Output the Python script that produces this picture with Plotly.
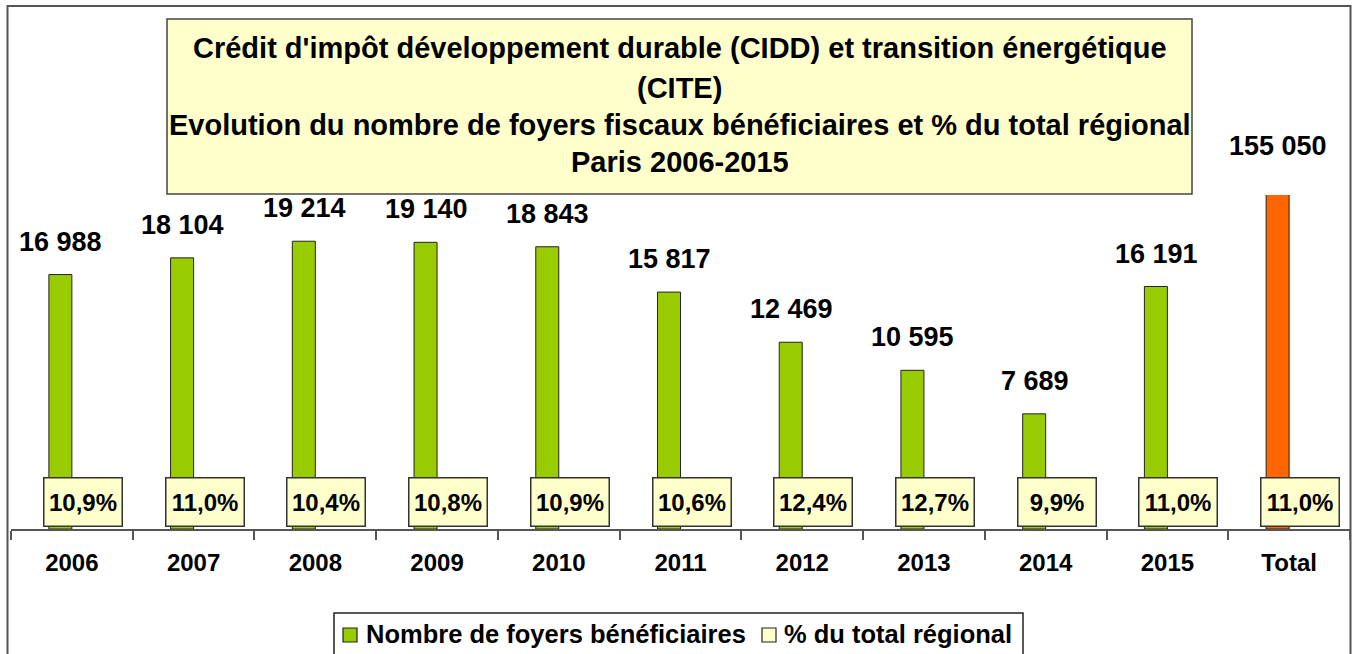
import plotly.graph_objects as go

# ---------------- data ----------------
categories = ['2006', '2007', '2008', '2009', '2010', '2011', '2012', '2013', '2014', '2015', 'Total']
foyers = [16988, 18104, 19214, 19140, 18843, 15817, 12469, 10595, 7689, 16191, 155050]
pct_total = ['10,9%', '11,0%', '10,4%', '10,8%', '10,9%', '10,6%', '12,4%', '12,7%', '9,9%', '11,0%', '11,0%']
series_names = ['Nombre de foyers bénéficiaires', '% du total régional']
title_lines = [
    "Crédit d'impôt développement durable (CIDD) et transition énergétique",
    "(CITE)",
    "Evolution du nombre de foyers fiscaux bénéficiaires et % du total régional",
    "Paris 2006-2015",
]

# ---------------- layout geometry ----------------
W, H = 1354, 654
ML, MR, MT, MB = 11, 4, 195, 125
PW = W - ML - MR
PH = H - MT - MB
YMAX = 22300
FONT = 'Liberation Sans, Arial, sans-serif'
GREEN = '#99CC00'
ORANGE = '#FF6600'
PALE = '#FFFFCC'


def px_x(px):
    return (px - ML) / PW


def px_y(py):
    return (H - MB - py) / PH


def fmt(v):
    return f"{v:,}".replace(',', ' ')


colors = [ORANGE if c == 'Total' else GREEN for c in categories]
legend_colors = [GREEN, PALE]

fig = go.Figure()
fig.add_trace(go.Bar(
    x=categories, y=foyers, name=series_names[0],
    marker=dict(color=colors, line=dict(color='#222222', width=1)),
    showlegend=False,
))
fig.add_trace(go.Bar(
    x=categories, y=[0] * len(categories), name=series_names[1],
    marker=dict(color=PALE, line=dict(color='#222222', width=0)),
    showlegend=False, hoverinfo='skip',
))

annotations = []
# value labels (x given as category index)
for i, v in enumerate(foyers):
    clipped = v > YMAX
    annotations.append(dict(
        x=i, y=min(v, YMAX), xref='x', yref='y', xshift=-11,
        yshift=32 if clipped else 16, yanchor='bottom', xanchor='center',
        text=f"<b>{fmt(v)}</b>", showarrow=False,
        font=dict(family=FONT, size=27, color='#000000'),
    ))
# percent boxes
for i, p in enumerate(pct_total):
    annotations.append(dict(
        x=i, y=0, xref='x', yref='y', xshift=11, yshift=2,
        yanchor='bottom', xanchor='center',
        text=f"<b>{p}</b>", showarrow=False,
        font=dict(family=FONT, size=24, color='#000000'),
        bgcolor=PALE, bordercolor='#333333', borderwidth=1.5,
        width=73, height=43, borderpad=2, align='center', valign='middle',
    ))
# title lines
for py, line in zip([48, 88, 125, 162], title_lines):
    annotations.append(dict(
        x=px_x(679.5), y=px_y(py), xref='paper', yref='paper',
        xanchor='center', yanchor='middle', text=f"<b>{line}</b>",
        showarrow=False, font=dict(family=FONT, size=29, color='#000000'),
    ))

shapes = [
    # outer chart border
    dict(type='rect', xref='paper', yref='paper',
         x0=px_x(7.5), x1=px_x(1350.5), y0=px_y(664), y1=px_y(6),
         line=dict(color='#555555', width=2), fillcolor='rgba(0,0,0,0)', layer='below'),
    # title box
    dict(type='rect', xref='paper', yref='paper',
         x0=px_x(167), x1=px_x(1192), y0=px_y(194), y1=px_y(19),
         line=dict(color='#444444', width=1.5), fillcolor=PALE, layer='above'),
    # legend box
    dict(type='rect', xref='paper', yref='paper',
         x0=px_x(334), x1=px_x(1023), y0=px_y(664), y1=px_y(613),
         line=dict(color='#222222', width=1.5), fillcolor='white', layer='above'),
]

# legend entries: swatch + name
for sx, tx, name, col in zip([343, 762], [364, 782], series_names, legend_colors):
    shapes.append(dict(
        type='rect', xref='paper', yref='paper',
        x0=px_x(sx), x1=px_x(sx + 14), y0=px_y(642), y1=px_y(628),
        line=dict(color='#222222', width=1.2), fillcolor=col, layer='above',
    ))
    annotations.append(dict(
        x=px_x(tx), y=px_y(634), xref='paper', yref='paper',
        xanchor='left', yanchor='middle', text=f"<b>{name}</b>",
        showarrow=False, font=dict(family=FONT, size=25.5, color='#000000'),
    ))

fig.update_layout(
    width=W, height=H, autosize=False,
    margin=dict(l=ML, r=MR, t=MT, b=MB, pad=0),
    paper_bgcolor='white', plot_bgcolor='white',
    barmode='group', bargap=0.622, bargroupgap=0,
    showlegend=False,
    annotations=annotations,
    shapes=shapes,
    font=dict(family=FONT, color='#000000'),
)
fig.update_xaxes(
    type='category', categoryorder='array', categoryarray=categories,
    range=[-0.5, len(categories) - 0.5], autorange=False,
    showline=True, linecolor='#555555', linewidth=1.5,
    ticks='outside', tickson='boundaries', ticklen=9, tickcolor='#555555', tickwidth=1.5,
    tickfont=dict(family=FONT, size=24, color='#000000', weight='bold'),
    ticklabelstandoff=11, showgrid=False, zeroline=False, automargin=False,
)
fig.update_yaxes(
    range=[0, YMAX], autorange=False, visible=False, showgrid=False, zeroline=False,
)

fig.write_html("out.html", config={'displayModeBar': False},
               post_script="document.body.style.margin='0';")
